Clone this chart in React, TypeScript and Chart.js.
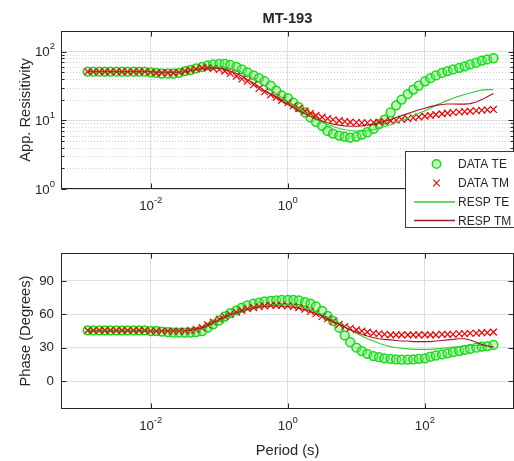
import React, { useEffect, useRef } from "react";
import { Chart, registerables } from "chart.js";

Chart.register(...registerables);

// ---------- text ----------
const TITLE = "MT-193";
const Y1_LABEL = "App. Resisitivity";
const Y2_LABEL = "Phase (Degrees)";
const X_LABEL = "Period (s)";
const SERIES = ["DATA TE", "DATA TM", "RESP TE", "RESP TM"];

// ---------- ticks / limits ----------
const X_TICK_EXP = [-2, 0, 2];
const X_LIMIT_EXP = [-3.31, 3.3];
const RHO_TICK_EXP = [0, 1, 2];
const RHO_LIMIT_EXP = [0, 2.3];
const RHO_MINOR_MULT = [2, 3, 4, 5, 6, 7, 8, 9];
const PHASE_TICKS = [0, 30, 60, 90];
const PHASE_LIMITS = [-25, 115];

// ---------- data ----------
const LOG_PERIOD = [
  -2.92, -2.84, -2.75, -2.67, -2.59, -2.5, -2.42, -2.34, -2.25, -2.17, -2.09, -2.0,
  -1.92, -1.84, -1.75, -1.67, -1.59, -1.5, -1.42, -1.34, -1.25, -1.17, -1.09, -1.0,
  -0.92, -0.84, -0.75, -0.67, -0.59, -0.5, -0.42, -0.34, -0.25, -0.17, -0.09, 0.0,
  0.08, 0.16, 0.25, 0.33, 0.41, 0.5, 0.58, 0.66, 0.75, 0.83, 0.91, 1.0,
  1.08, 1.16, 1.25, 1.33, 1.41, 1.5, 1.58, 1.66, 1.75, 1.83, 1.91, 2.0,
  2.08, 2.16, 2.25, 2.33, 2.41, 2.5, 2.58, 2.66, 2.75, 2.83, 2.91, 3.0,
];

const RHO_DATA_TE = [
  51, 51, 51, 51, 51, 51, 51, 51, 51, 51, 51, 50,
  49, 48, 48, 48, 49, 52, 54, 57, 60, 63, 65, 66,
  66, 64, 60, 55, 50, 45, 41, 37, 32, 27, 23, 21,
  18, 15.5, 13, 11, 9.5, 8.3, 7.0, 6.4, 6.0, 5.8, 5.6, 5.8,
  6.2, 6.7, 7.5, 8.8, 10.2, 13, 16.5, 20, 24, 28, 32, 37,
  41, 45, 49, 52, 55, 58, 61, 65, 69, 74, 77, 80,
];
const RHO_DATA_TM = [
  51, 51, 51, 51, 51, 51, 51, 51, 51, 51, 51, 50,
  49, 49, 49, 49, 50, 52, 54, 56, 58, 58, 57, 55,
  52, 48, 44, 40, 37, 33, 29, 26, 23.5, 21.5, 19.5, 18,
  16.3, 14.8, 13.6, 12.6, 11.8, 11.1, 10.6, 10.2, 9.9, 9.6, 9.4, 9.3,
  9.2, 9.2, 9.3, 9.4, 9.6, 9.8, 10, 10.3, 10.6, 10.9, 11.2, 11.5,
  11.8, 12.1, 12.4, 12.7, 13, 13.2, 13.4, 13.6, 13.8, 14, 14.2, 14.4,
];
const RHO_RESP_TE = [
  51, 51, 51, 51, 51, 51, 51, 51, 51, 51, 51, 51,
  50, 50, 50, 50, 50, 51, 53, 55, 57, 59, 60, 60,
  59, 57, 54, 50, 45, 41, 36, 32, 28, 24.5, 21.5, 19,
  16.5, 14.5, 13, 11.5, 10.3, 9.4, 8.7, 8.1, 7.6, 7.3, 7.1, 7.0,
  7.0, 7.1, 7.3, 7.7, 8.1, 8.6, 9.3, 10, 10.8, 11.7, 12.7, 13.8,
  15, 16.5, 18, 19.5, 21, 22.5, 23.8, 25, 26.5, 27.5, 28, 28,
];
const RHO_RESP_TM = [
  51, 51, 51, 51, 51, 51, 51, 51, 51, 51, 51, 51,
  50, 50, 50, 50, 50, 51, 53, 55, 57, 58, 58, 57,
  55, 52, 48, 44, 39, 35, 31, 27, 24, 21.5, 19, 17,
  15.3, 13.8, 12.5, 11.4, 10.5, 9.8, 9.2, 8.8, 8.5, 8.3, 8.2, 8.2,
  8.3, 8.5, 8.8, 9.2, 9.7, 10.3, 11, 11.7, 12.5, 13.3, 14.2, 15,
  15.8, 16.5, 17, 17.3, 17.3, 17.2, 17.2, 17.5, 18.5, 20, 22, 24.5,
];

const PHASE_DATA_TE = [
  45.5, 45.5, 45.5, 45.5, 45.5, 45.5, 45.5, 45.5, 45.5, 45.5, 45.5, 45,
  45, 44.5, 44, 43.5, 43.5, 43.5, 43.5, 44, 45, 48, 51, 54.5,
  58, 61, 63.5, 66, 68, 69.5, 70.5, 71.5, 72, 72.5, 73, 73,
  73, 72.5, 71, 69.5, 67, 63, 58.5, 54, 48, 41, 35, 30,
  27, 24.5, 22.5, 21.5, 20.5, 20, 19.5, 19.3, 19.3, 19.5, 20, 20.5,
  22, 23, 24, 25, 26, 27, 28, 29, 30, 31, 31.5, 32.5,
];
const PHASE_DATA_TM = [
  45.5, 45.5, 45.5, 45.5, 45.5, 45.5, 45.5, 45.5, 45.5, 45.5, 45.5, 45,
  45, 45, 45, 45, 45, 45, 45.5, 46.5, 48, 50.5, 53, 55.5,
  58, 60, 62, 63.5, 65, 66, 67, 67.5, 68, 68, 68, 67.5,
  67, 66, 64.5, 62.5, 60.5, 58, 56, 53.5, 51, 49, 47.5, 46,
  45, 44, 43, 42.5, 42, 41.5, 41.5, 41.5, 41.5, 41.5, 41.5, 41.5,
  41.5, 41.5, 42, 42, 42, 42.5, 42.5, 43, 43, 43.5, 43.5, 44,
];
const PHASE_RESP_TE = [
  45, 45, 45, 45, 45, 45, 45, 45, 45, 45, 45, 45,
  45, 45, 45, 44.5, 44.5, 44.5, 44.5, 45, 46.5, 48.5, 51, 53.5,
  56, 58.5, 60.5, 62.5, 64, 65.5, 66.5, 67.5, 68, 68.5, 68.5, 68.5,
  68, 67, 65.5, 64, 62, 60, 57.5, 55, 52, 49, 46, 43,
  40.5, 38, 36, 34, 32.5, 31, 30, 29.5, 29, 28.5, 28.5, 28.5,
  28.5, 29, 29.5, 30, 30.5, 31, 31.5, 32, 32, 32, 31.5, 31,
];
const PHASE_RESP_TM = [
  45, 45, 45, 45, 45, 45, 45, 45, 45, 45, 45, 45,
  45, 45, 45, 45, 45, 45, 45.5, 46.5, 48, 50, 52.5, 55,
  57.5, 59.5, 61.5, 63, 64.5, 65.5, 66.5, 67, 67.5, 67.5, 67.5, 67,
  66.5, 65.5, 64, 62.5, 60.5, 58.5, 56, 53.5, 51, 48.5, 46, 44,
  42, 40.5, 39, 38, 37.5, 37, 36.5, 36, 36, 35.5, 35.5, 35.5,
  35.5, 36, 36.5, 37, 37.5, 38, 38, 37, 35, 33, 31.5, 30.5,
];

// ---------- styling ----------
const W = 520;
const H = 461;
const FONT = '"Liberation Sans", Arial, Helvetica, sans-serif';
const TEXT = "#262626";
const AXIS = "#262626";
const GRID = "rgb(223,223,223)";
const MINOR_GRID = "rgb(208,208,208)";
const TE_EDGE = "rgb(20,220,20)";
const TE_FILL = "rgba(120,235,120,0.45)";
const TM_COLOR = "rgb(240,0,0)";
const RESP_TE_COLOR = "rgb(50,205,50)";
const RESP_TM_COLOR = "rgb(170,20,40)";

const pts = (ys: number[]) => LOG_PERIOD.map((lp, i) => ({ x: Math.pow(10, lp), y: ys[i] }));

function datasets(te: number[], tm: number[], rte: number[], rtm: number[]) {
  return [
    {
      label: SERIES[0], data: pts(te), showLine: false, order: 4,
      pointStyle: "circle", pointRadius: 4.4, borderWidth: 1.5,
      borderColor: TE_EDGE, backgroundColor: TE_FILL,
    },
    {
      label: SERIES[1], data: pts(tm), showLine: false, order: 3,
      pointStyle: "crossRot", pointRadius: 4.8, borderWidth: 1.2,
      borderColor: TM_COLOR, backgroundColor: TM_COLOR,
    },
    {
      label: SERIES[2], data: pts(rte), showLine: true, order: 2,
      pointRadius: 0, borderWidth: 1.1, borderColor: RESP_TE_COLOR, tension: 0,
    },
    {
      label: SERIES[3], data: pts(rtm), showLine: true, order: 1,
      pointRadius: 0, borderWidth: 1.1, borderColor: RESP_TM_COLOR, tension: 0,
    },
  ];
}

function drawPow(ctx: CanvasRenderingContext2D, exp: number, x: number, y: number, align: "center" | "right") {
  const base = "10";
  const sup = String(exp);
  ctx.font = `13.3px ${FONT}`;
  const wb = ctx.measureText(base).width;
  ctx.font = `9.5px ${FONT}`;
  const ws = ctx.measureText(sup).width;
  const total = wb + ws;
  const x0 = align === "center" ? x - total / 2 : x - total;
  ctx.textAlign = "left";
  ctx.textBaseline = "middle";
  ctx.font = `13.3px ${FONT}`;
  ctx.fillText(base, x0, y);
  ctx.font = `9.5px ${FONT}`;
  ctx.fillText(sup, x0 + wb, y - 6);
}

const framePlugin = {
  id: "frame",
  beforeDatasetsDraw(chart: any, _args: any, opts: any) {
    if (opts.kind !== "rho") return;
    const { ctx, chartArea: a } = chart;
    const ys = chart.scales.y;
    ctx.save();
    ctx.strokeStyle = MINOR_GRID;
    ctx.lineWidth = 1;
    ctx.setLineDash([1, 2]);
    ctx.beginPath();
    for (const e of RHO_TICK_EXP) {
      for (const m of RHO_MINOR_MULT) {
        const v = m * Math.pow(10, e);
        if (v > Math.pow(10, RHO_LIMIT_EXP[1]) * 1.01) continue;
        const py = Math.round(ys.getPixelForValue(v)) + 0.5;
        if (py < a.top) continue;
        ctx.moveTo(a.left, py);
        ctx.lineTo(a.right, py);
      }
    }
    ctx.stroke();
    ctx.restore();
  },
  afterDraw(chart: any, _args: any, opts: any) {
    const { ctx, chartArea: a } = chart;
    const xs = chart.scales.x;
    const ys = chart.scales.y;
    ctx.save();
    ctx.setLineDash([]);
    ctx.strokeStyle = AXIS;
    ctx.lineWidth = 1;
    const L = Math.round(a.left) + 0.5;
    const R = Math.round(a.right) - 0.5;
    const T = Math.round(a.top) + 0.5;
    const B = Math.round(a.bottom) - 0.5;
    ctx.strokeRect(L, T, R - L, B - T);
    ctx.beginPath();
    for (const e of X_TICK_EXP) {
      const px = Math.round(xs.getPixelForValue(Math.pow(10, e))) + 0.5;
      ctx.moveTo(px, B); ctx.lineTo(px, B - 5);
      ctx.moveTo(px, T); ctx.lineTo(px, T + 5);
    }
    const yMajor = opts.kind === "rho" ? RHO_TICK_EXP.map((e) => Math.pow(10, e)) : PHASE_TICKS;
    for (const v of yMajor) {
      const py = Math.round(ys.getPixelForValue(v)) + 0.5;
      ctx.moveTo(L, py); ctx.lineTo(L + 5, py);
      ctx.moveTo(R, py); ctx.lineTo(R - 5, py);
    }
    if (opts.kind === "rho") {
      for (const e of RHO_TICK_EXP) {
        for (const m of RHO_MINOR_MULT) {
          const v = m * Math.pow(10, e);
          const py = Math.round(ys.getPixelForValue(v)) + 0.5;
          if (py < a.top) continue;
          ctx.moveTo(L, py); ctx.lineTo(L + 3, py);
          ctx.moveTo(R, py); ctx.lineTo(R - 3, py);
        }
      }
    }
    ctx.stroke();

    // tick labels
    ctx.fillStyle = TEXT;
    for (const e of X_TICK_EXP) {
      drawPow(ctx, e, xs.getPixelForValue(Math.pow(10, e)), a.bottom + 17, "center");
    }
    if (opts.kind === "rho") {
      for (const e of RHO_TICK_EXP) {
        drawPow(ctx, e, a.left - 6, ys.getPixelForValue(Math.pow(10, e)) + 1, "right");
      }
    } else {
      ctx.font = `13.3px ${FONT}`;
      ctx.textAlign = "right";
      ctx.textBaseline = "middle";
      for (const v of PHASE_TICKS) ctx.fillText(String(v), a.left - 7, ys.getPixelForValue(v));
    }

    // y label
    ctx.save();
    ctx.translate(26, (a.top + a.bottom) / 2);
    ctx.rotate(-Math.PI / 2);
    ctx.font = `14.7px ${FONT}`;
    ctx.textAlign = "center";
    ctx.textBaseline = "middle";
    ctx.fillText(opts.kind === "rho" ? Y1_LABEL : Y2_LABEL, 0, 0);
    ctx.restore();

    if (opts.title) {
      ctx.font = `bold 14.7px ${FONT}`;
      ctx.textAlign = "center";
      ctx.textBaseline = "middle";
      ctx.fillText(TITLE, (a.left + a.right) / 2, 19);
    }
    if (opts.xlabel) {
      ctx.font = `14.7px ${FONT}`;
      ctx.textAlign = "center";
      ctx.textBaseline = "middle";
      ctx.fillText(X_LABEL, (a.left + a.right) / 2, a.bottom + 42);
    }

    if (opts.legend) {
      const bx = 405.5, by = 151.5, bw = 130, bh = 76;
      ctx.fillStyle = "#ffffff";
      ctx.fillRect(bx, by, bw, bh);
      ctx.strokeStyle = "#3a3a3a";
      ctx.lineWidth = 1;
      ctx.strokeRect(bx, by, bw, bh);
      const rows = [164, 183, 202, 220.5];
      const sx = 436.5;
      // DATA TE
      ctx.beginPath();
      ctx.arc(sx, rows[0], 4.2, 0, Math.PI * 2);
      ctx.fillStyle = TE_FILL; ctx.fill();
      ctx.strokeStyle = TE_EDGE; ctx.lineWidth = 1.4; ctx.stroke();
      // DATA TM
      ctx.beginPath();
      const d = 3.3;
      ctx.moveTo(sx - d, rows[1] - d); ctx.lineTo(sx + d, rows[1] + d);
      ctx.moveTo(sx + d, rows[1] - d); ctx.lineTo(sx - d, rows[1] + d);
      ctx.strokeStyle = TM_COLOR; ctx.lineWidth = 1.1; ctx.stroke();
      // RESP TE
      ctx.beginPath();
      ctx.moveTo(414, rows[2]); ctx.lineTo(455, rows[2]);
      ctx.strokeStyle = RESP_TE_COLOR; ctx.lineWidth = 1.3; ctx.stroke();
      // RESP TM
      ctx.beginPath();
      ctx.moveTo(414, rows[3]); ctx.lineTo(455, rows[3]);
      ctx.strokeStyle = RESP_TM_COLOR; ctx.lineWidth = 1.3; ctx.stroke();
      ctx.fillStyle = TEXT;
      ctx.font = `12px ${FONT}`;
      ctx.textAlign = "left";
      ctx.textBaseline = "alphabetic";
      SERIES.forEach((s, i) => ctx.fillText(s, 458, rows[i] + 4.3));
    }
    ctx.restore();
  },
};

function xScale() {
  return {
    type: "logarithmic",
    position: "bottom",
    bounds: "data",
    min: Math.pow(10, X_LIMIT_EXP[0]),
    max: Math.pow(10, X_LIMIT_EXP[1]),
    afterBuildTicks: (s: any) => { s.ticks = X_TICK_EXP.map((e) => ({ value: Math.pow(10, e) })); },
    afterFit: (s: any) => { s.height = 0; },
    ticks: { display: false },
    grid: { color: GRID, lineWidth: 1, drawTicks: false },
    border: { display: false },
  };
}

function makeConfig(kind: "rho" | "phase") {
  const isRho = kind === "rho";
  const ds = isRho
    ? datasets(RHO_DATA_TE, RHO_DATA_TM, RHO_RESP_TE, RHO_RESP_TM)
    : datasets(PHASE_DATA_TE, PHASE_DATA_TM, PHASE_RESP_TE, PHASE_RESP_TM);
  const yScale = isRho
    ? {
        type: "logarithmic",
        bounds: "data",
        min: Math.pow(10, RHO_LIMIT_EXP[0]),
        max: Math.pow(10, RHO_LIMIT_EXP[1]),
        afterBuildTicks: (s: any) => { s.ticks = RHO_TICK_EXP.map((e) => ({ value: Math.pow(10, e) })); },
      }
    : {
        type: "linear",
        bounds: "data",
        min: PHASE_LIMITS[0],
        max: PHASE_LIMITS[1],
        afterBuildTicks: (s: any) => { s.ticks = PHASE_TICKS.map((v) => ({ value: v })); },
      };
  return {
    type: "scatter",
    data: { datasets: ds },
    plugins: [framePlugin],
    options: {
      responsive: false,
      animation: false,
      devicePixelRatio: 1,
      events: [],
      layout: {
        padding: isRho
          ? { left: 61, top: 31, right: W - 519, bottom: H - 189 }
          : { left: 61, top: 253, right: W - 519, bottom: H - 409 },
      },
      plugins: {
        legend: { display: false },
        tooltip: { enabled: false },
        title: { display: false },
        frame: { kind, title: isRho, legend: isRho, xlabel: !isRho },
      },
      scales: {
        x: xScale(),
        y: {
          ...yScale,
          position: "left",
          afterFit: (s: any) => { s.width = 0; },
          ticks: { display: false },
          grid: { color: GRID, lineWidth: 1, drawTicks: false },
          border: { display: false },
        },
      },
    },
  } as any;
}

export default function App() {
  const c1 = useRef<HTMLCanvasElement>(null);
  const c2 = useRef<HTMLCanvasElement>(null);
  useEffect(() => {
    const ch1 = new Chart(c1.current as HTMLCanvasElement, makeConfig("rho"));
    const ch2 = new Chart(c2.current as HTMLCanvasElement, makeConfig("phase"));
    return () => { ch1.destroy(); ch2.destroy(); };
  }, []);
  const cs: React.CSSProperties = { position: "absolute", left: 0, top: 0, width: W, height: H };
  return (
    <div style={{ position: "fixed", left: 0, top: 0, width: 514, height: 461, overflow: "hidden", background: "#fff" }}>
      <canvas ref={c1} width={W} height={H} style={cs} />
      <canvas ref={c2} width={W} height={H} style={cs} />
    </div>
  );
}
